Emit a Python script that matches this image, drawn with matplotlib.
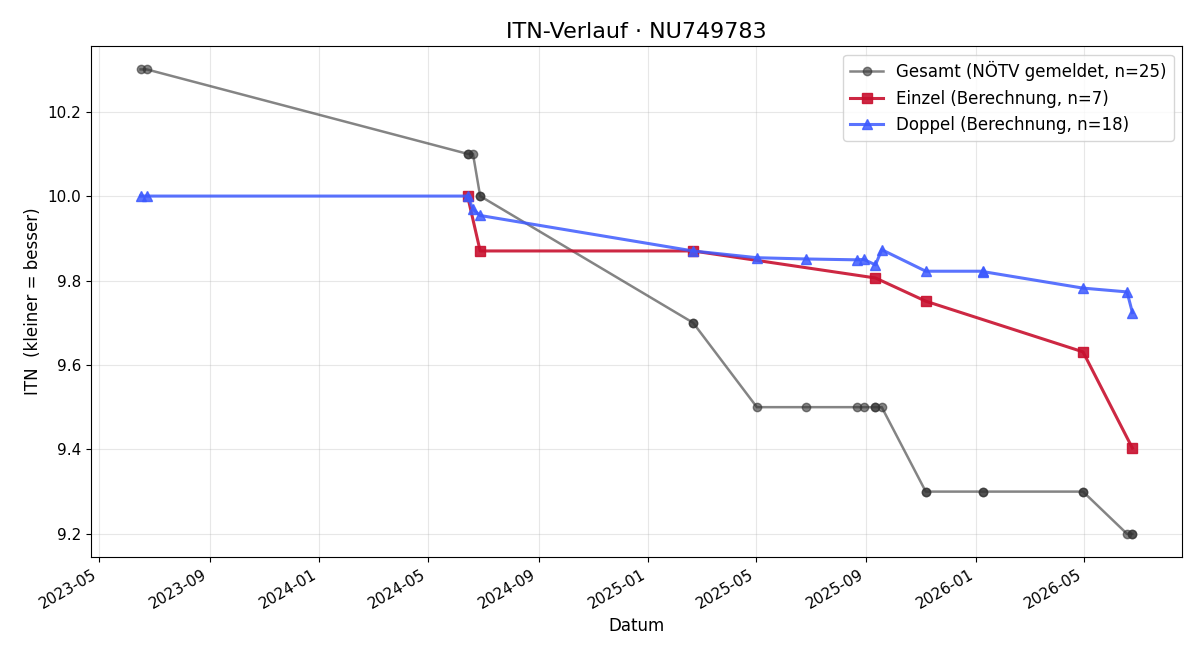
import matplotlib
matplotlib.use("Agg")
import matplotlib.pyplot as plt
import matplotlib.dates as mdates
import pandas as pd

title = "ITN-Verlauf · NU749783"

gesamt_dates = ["2023-06-16", "2023-06-23", "2024-06-14", "2024-06-14", "2024-06-20",
                "2024-06-28", "2024-06-28", "2025-02-20", "2025-02-20", "2025-05-02",
                "2025-06-26", "2025-08-21", "2025-08-29", "2025-09-11", "2025-09-11",
                "2025-09-18", "2025-11-06", "2025-11-06", "2026-01-09", "2026-01-09",
                "2026-04-30", "2026-04-30", "2026-06-18", "2026-06-24", "2026-06-24"]
gesamt_vals = [10.3, 10.3, 10.1, 10.1, 10.1,
               10.0, 10.0, 9.7, 9.7, 9.5,
               9.5, 9.5, 9.5, 9.5, 9.5,
               9.5, 9.3, 9.3, 9.3, 9.3,
               9.3, 9.3, 9.2, 9.2, 9.2]

einzel_dates = ["2024-06-14", "2024-06-28", "2025-02-20", "2025-09-11",
                "2025-11-06", "2026-04-30", "2026-06-24"]
einzel_vals = [10.0, 9.87, 9.87, 9.806, 9.751, 9.631, 9.403]

doppel_dates = ["2023-06-16", "2023-06-23", "2024-06-14", "2024-06-20", "2024-06-28",
                "2025-02-20", "2025-05-02", "2025-06-26", "2025-08-21", "2025-08-29",
                "2025-09-11", "2025-09-18", "2025-11-06", "2026-01-09", "2026-01-09",
                "2026-04-30", "2026-06-18", "2026-06-24"]
doppel_vals = [10.0, 10.0, 10.0, 9.969, 9.954,
               9.87, 9.854, 9.851, 9.849, 9.85,
               9.837, 9.873, 9.822, 9.822, 9.821,
               9.782, 9.773, 9.724]

fig, ax = plt.subplots(figsize=(12, 6.6), dpi=100)

ax.plot(pd.to_datetime(gesamt_dates), gesamt_vals, color="#333333", alpha=0.6,
        marker="o", markersize=6, linewidth=1.8,
        label=f"Gesamt (NÖTV gemeldet, n={len(gesamt_vals)})")
ax.plot(pd.to_datetime(einzel_dates), einzel_vals, color="#c8102e", alpha=0.9,
        marker="s", markersize=7, linewidth=2.2,
        label=f"Einzel (Berechnung, n={len(einzel_vals)})")
ax.plot(pd.to_datetime(doppel_dates), doppel_vals, color="#3d5afe", alpha=0.85,
        marker="^", markersize=7, linewidth=2.2,
        label=f"Doppel (Berechnung, n={len(doppel_vals)})")

ax.set_title(title, fontsize=16)
ax.set_xlabel("Datum", fontsize=12)
ax.set_ylabel("ITN  (kleiner = besser)", fontsize=12)
ax.grid(True, alpha=0.3)
ax.xaxis.set_major_locator(mdates.MonthLocator(bymonth=[1, 5, 9]))
ax.xaxis.set_major_formatter(mdates.DateFormatter("%Y-%m"))
ax.tick_params(labelsize=11)
ax.legend(loc="upper right", fontsize=12)
fig.autofmt_xdate()
fig.subplots_adjust(left=0.0758, right=0.985, top=0.930, bottom=0.156)
fig.savefig("out.png", dpi=100)
